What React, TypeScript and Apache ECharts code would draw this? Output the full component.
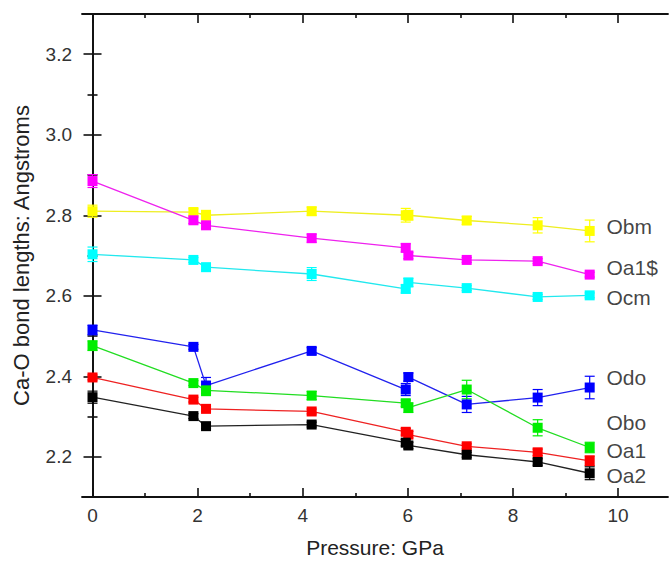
import React, { useEffect, useRef } from "react";
import * as echarts from "echarts";

// Pressure values (GPa) shared by all series
const pressure = [0, 1.92, 2.16, 4.17, 5.96, 6.01, 7.12, 8.47, 9.46];

// Ca-O bond lengths (Angstroms) and their error bars
const obm = [2.81, 2.808, 2.8, 2.81, 2.8, 2.8, 2.787, 2.775, 2.761];
const obmErr = [0.015, 0.008, 0.012, 0.01, 0.017, 0.012, 0.01, 0.019, 0.027];
const oa1s = [2.885, 2.7875, 2.775, 2.743, 2.719, 2.7, 2.689, 2.686, 2.6525];
const oa1sErr = [0.016, 0.008, 0.008, 0.01, 0.01, 0.008, 0.006, 0.006, 0.006];
const ocm = [2.703, 2.689, 2.671, 2.654, 2.617, 2.633, 2.619, 2.597, 2.601];
const ocmErr = [0.018, 0.006, 0.006, 0.016, 0.01, 0.01, 0.006, 0.006, 0.006];
const odo = [2.515, 2.473, 2.377, 2.463, 2.367, 2.398, 2.33, 2.347, 2.372];
const odoErr = [0.012, 0.006, 0.02, 0.008, 0.015, 0.01, 0.02, 0.02, 0.028];
const obo = [2.476, 2.383, 2.365, 2.352, 2.333, 2.322, 2.367, 2.272, 2.223];
const oboErr = [0.012, 0.006, 0.013, 0.01, 0.008, 0.012, 0.023, 0.02, 0.013];
const oa1 = [2.397, 2.342, 2.319, 2.3125, 2.262, 2.255, 2.226, 2.211, 2.19];
const oa1Err = [0.006, 0.006, 0.006, 0.006, 0.008, 0.008, 0.006, 0.008, 0.012];
const oa2 = [2.348, 2.301, 2.276, 2.28, 2.235, 2.228, 2.205, 2.187, 2.159];
const oa2Err = [0.015, 0.006, 0.006, 0.006, 0.008, 0.008, 0.006, 0.008, 0.016];

const seriesNames = ["Obm", "Oa1$", "Ocm", "Odo", "Obo", "Oa1", "Oa2"];
const seriesValues = [obm, oa1s, ocm, odo, obo, oa1, oa2];
const seriesErrors = [obmErr, oa1sErr, ocmErr, odoErr, oboErr, oa1Err, oa2Err];
const seriesColors = ["#ffff00", "#ff00ff", "#00ffff", "#0000ff", "#00ee00", "#ff0000", "#000000"];
const lineColors = ["#eeee20", "#ee22ee", "#22e8ee", "#2222ee", "#22dd22", "#ee2222", "#222222"];

// Annotation labels at the right
const labelX = 9.78;
const labelY = [2.772, 2.671, 2.596, 2.396, 2.285, 2.215, 2.153];

// Axis ticks
const xMajorTicks = [0, 2, 4, 6, 8, 10];
const xMinorTicks = [1, 3, 5, 7, 9];
const yMajorTicks = [2.2, 2.4, 2.6, 2.8, 3.0, 3.2];
const yMinorTicks = [2.3, 2.5, 2.7, 2.9, 3.1];

const X_MIN = -0.2;
const X_MAX = 10.95;
const Y_MIN = 2.1;
const Y_MAX = 3.3;

const FONT = "'Liberation Sans', Arial, sans-serif";

export default function App() {
  const ref = useRef<HTMLDivElement>(null);

  useEffect(() => {
    if (!ref.current) return;
    const chart = echarts.init(ref.current, undefined, { renderer: "svg" });

    const axisLine = { show: true, lineStyle: { color: "#111", width: 1.8 } };

    const makeX = (pos: "bottom" | "top", ticks: number[], len: number, labels: boolean, line: boolean) => ({
      type: "value",
      position: pos,
      min: X_MIN,
      max: X_MAX,
      splitLine: { show: false },
      axisLine: line ? axisLine : { show: false },
      axisTick: { show: true, inside: true, length: len, customValues: ticks, lineStyle: { color: "#111", width: 1.6 } },
      axisLabel: labels
        ? { show: true, customValues: ticks, fontSize: 19, color: "#333", fontFamily: FONT, margin: 9 }
        : { show: false },
      ...(labels
        ? {
            name: "Pressure: GPa",
            nameLocation: "middle",
            nameGap: 40,
            nameTextStyle: { fontSize: 21, color: "#222", fontFamily: FONT },
          }
        : {}),
    });

    const makeY = (pos: "left" | "right", ticks: number[], len: number, labels: boolean, line: boolean) => ({
      type: "value",
      position: pos,
      min: Y_MIN,
      max: Y_MAX,
      splitLine: { show: false },
      axisLine: line ? axisLine : { show: false },
      axisTick: { show: true, inside: true, length: len, customValues: ticks, lineStyle: { color: "#111", width: 1.6 } },
      axisLabel: labels
        ? {
            show: true,
            customValues: ticks,
            fontSize: 19,
            color: "#333",
            fontFamily: FONT,
            margin: 10,
            formatter: (v: number) => v.toFixed(1),
          }
        : { show: false },
      ...(labels
        ? {
            name: "Ca-O bond lengths: Angstroms",
            nameLocation: "middle",
            nameGap: 50,
            nameTextStyle: { fontSize: 22, color: "#222", fontFamily: FONT },
          }
        : {}),
    });

    const series: any[] = [];
    seriesNames.forEach((name, i) => {
      const color = seriesColors[i];
      series.push({
        name: name + " err",
        type: "custom",
        xAxisIndex: 0,
        yAxisIndex: 0,
        clip: false,
        z: 2,
        data: pressure.map((p, j) => [p, seriesValues[i][j] - seriesErrors[i][j], seriesValues[i][j] + seriesErrors[i][j]]),
        encode: { x: 0, y: [1, 2] },
        renderItem: (params: any, api: any) => {
          const x = api.value(0);
          const lo = api.coord([x, api.value(1)]);
          const hi = api.coord([x, api.value(2)]);
          const hw = 5;
          const style = { stroke: color, lineWidth: 1.2 };
          return {
            type: "group",
            children: [
              { type: "line", shape: { x1: lo[0], y1: lo[1], x2: hi[0], y2: hi[1] }, style },
              { type: "line", shape: { x1: lo[0] - hw, y1: lo[1], x2: lo[0] + hw, y2: lo[1] }, style },
              { type: "line", shape: { x1: hi[0] - hw, y1: hi[1], x2: hi[0] + hw, y2: hi[1] }, style },
            ],
          };
        },
      });
      series.push({
        name,
        type: "line",
        xAxisIndex: 0,
        yAxisIndex: 0,
        z: 3,
        data: pressure.map((p, j) => [p, seriesValues[i][j]]),
        symbol: "rect",
        symbolSize: 10,
        showSymbol: true,
        lineStyle: { color: lineColors[i], width: 1.3 },
        itemStyle: { color, borderWidth: 0 },
      });
    });

    series.push({
      name: "labels",
      type: "scatter",
      xAxisIndex: 0,
      yAxisIndex: 0,
      symbolSize: 0,
      data: seriesNames.map((n, i) => ({ value: [labelX, labelY[i]], name: n })),
      label: {
        show: true,
        position: "right",
        distance: 0,
        formatter: (p: any) => p.name,
        fontSize: 21,
        color: "#111",
        fontFamily: FONT,
      },
    });

    chart.setOption({
      animation: false,
      backgroundColor: "#ffffff",
      grid: { left: 82, top: 14, right: 2, bottom: 66, containLabel: false },
      xAxis: [
        makeX("bottom", xMajorTicks, 9, true, true),
        makeX("bottom", xMinorTicks, 4, false, false),
        makeX("top", xMajorTicks, 9, false, true),
        makeX("top", xMinorTicks, 4, false, false),
      ],
      yAxis: [
        makeY("left", yMajorTicks, 9, true, true),
        makeY("left", yMinorTicks, 5, false, false),
        makeY("right", yMajorTicks, 9, false, true),
        makeY("right", yMinorTicks, 5, false, false),
      ],
      series,
    });

    return () => chart.dispose();
  }, []);

  return (
    <div
      ref={ref}
      style={{ position: "absolute", left: 0, top: 0, width: 670, height: 563 }}
    />
  );
}
